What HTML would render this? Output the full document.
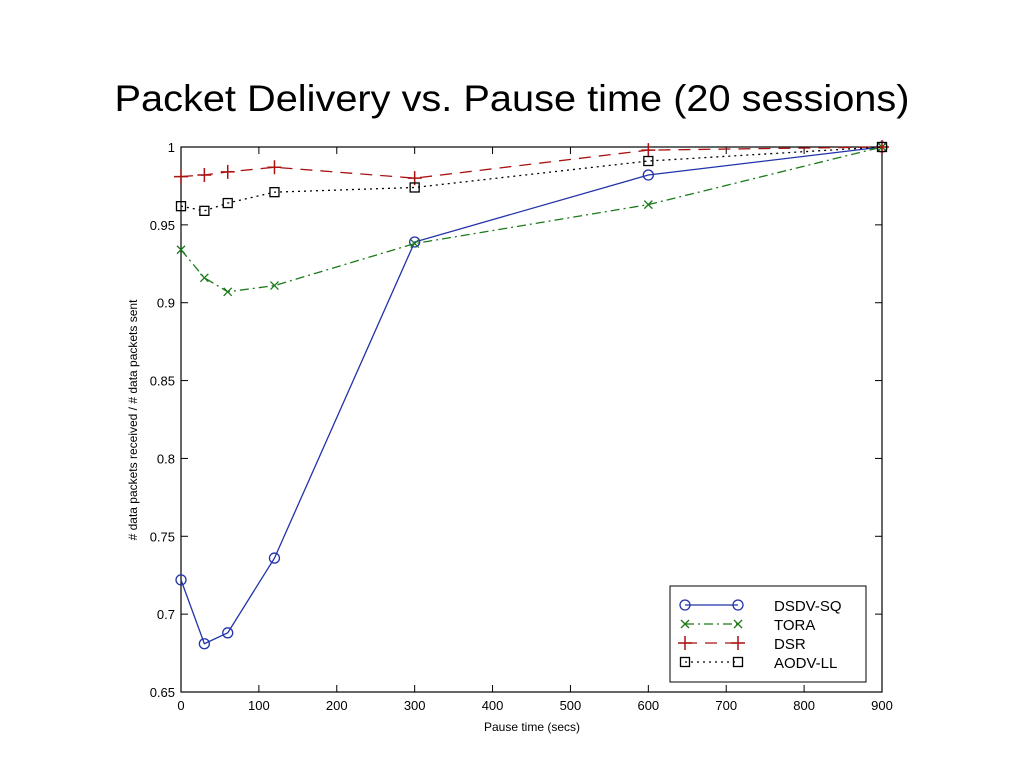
<!DOCTYPE html>
<html><head><meta charset="utf-8"><style>
body{margin:0;background:#fff;font-family:"Liberation Sans",sans-serif}
</style></head><body>
<svg id="c" width="1024" height="768" xmlns="http://www.w3.org/2000/svg" font-family="Liberation Sans, sans-serif">
<text x="512" y="111" text-anchor="middle" font-size="37" textLength="795" lengthAdjust="spacingAndGlyphs">Packet Delivery vs. Pause time (20 sessions)</text>
<rect x="181" y="147" width="701" height="545" fill="none" stroke="#000" stroke-width="1.2"/>
<g id="axes"></g><g id="series"></g>
<text x="532" y="731" text-anchor="middle" font-size="12">Pause time (secs)</text>
<text transform="translate(137,420) rotate(-90)" text-anchor="middle" font-size="12"># data packets received / # data packets sent</text>
<g id="legend"><rect x="670" y="586" width="196" height="96" fill="#fff" stroke="#000" stroke-width="1"/></g>
</svg>
<script>
const xs=[0,30,60,120,300,600,900];
const dsdv=[0.722,0.681,0.688,0.736,0.939,0.982,1.0];
const tora=[0.934,0.916,0.907,0.911,0.938,0.963,1.0];
const dsr=[0.981,0.982,0.984,0.987,0.980,0.998,1.0];
const aodv=[0.962,0.959,0.964,0.971,0.974,0.991,1.0];
const xTicks=[0,100,200,300,400,500,600,700,800,900];
const yTicks=[0.65,0.7,0.75,0.8,0.85,0.9,0.95,1];
const seriesNames=["DSDV-SQ","TORA","DSR","AODV-LL"];
const NS="http://www.w3.org/2000/svg";
const X=v=>181+v*701/900, Y=v=>692-(v-0.65)*545/0.35;
function mk(t,a,p){const e=document.createElementNS(NS,t);for(const k in a)e.setAttribute(k,a[k]);p.appendChild(e);return e;}
const ax=document.getElementById('axes');
xTicks.forEach(t=>{const x=X(t);
mk('line',{x1:x,x2:x,y1:692,y2:685,stroke:'#000'},ax);mk('line',{x1:x,x2:x,y1:147,y2:154,stroke:'#000'},ax);
const l=mk('text',{x:x,y:710,'text-anchor':'middle','font-size':13},ax);l.textContent=t;

});
yTicks.forEach(t=>{const y=Y(t);
mk('line',{x1:181,x2:188,y1:y,y2:y,stroke:'#000'},ax);mk('line',{x1:882,x2:875,y1:y,y2:y,stroke:'#000'},ax);
const l=mk('text',{x:175,y:y+5,'text-anchor':'end','font-size':13},ax);l.textContent=t;

});
const sg=document.getElementById('series');
const styles=[{c:'#2233aa',d:'',m:'o'},{c:'#1a7a1a',d:'9 4 2 4',m:'x'},{c:'#aa1111',d:'12 8',m:'+'},{c:'#000',d:'2 4',m:'s'}];
function marker(m,x,y,c,p){
 if(m==='o')mk('circle',{cx:x,cy:y,r:5,fill:'none',stroke:c,'stroke-width':1.3},p);
 else if(m==='x'){mk('path',{d:`M${x-4} ${y-4}L${x+4} ${y+4}M${x-4} ${y+4}L${x+4} ${y-4}`,stroke:c,'stroke-width':1.3},p);}
 else if(m==='+'){mk('path',{d:`M${x-7} ${y}L${x+7} ${y}M${x} ${y-7}L${x} ${y+7}`,stroke:c,'stroke-width':1.5},p);}
 else mk('rect',{x:x-4.5,y:y-4.5,width:9,height:9,fill:'none',stroke:c,'stroke-width':1.3},p);}
[dsdv,tora,dsr,aodv].forEach((s,i)=>{const st=styles[i];
 const g=mk('g',{},sg);
 
 
 mk('polyline',{points:s.map((v,j)=>X(xs[j])+','+Y(v)).join(' '),fill:'none',stroke:st.c,'stroke-width':1.3,'stroke-dasharray':st.d},g);
 s.forEach((v,j)=>marker(st.m,X(xs[j]),Y(v),st.c,g));
 const lg=document.getElementById('legend');
 const e=mk('g',{},lg);
 
 
 const y=605+i*19;
 mk('line',{x1:685,x2:738,y1:y,y2:y,stroke:st.c,'stroke-width':1.3,'stroke-dasharray':st.d},e);
 marker(st.m,685,y,st.c,e);marker(st.m,738,y,st.c,e);
 const t=mk('text',{x:774,y:y+6,'font-size':15},e);t.textContent=seriesNames[i];});
</script>
</body></html>
